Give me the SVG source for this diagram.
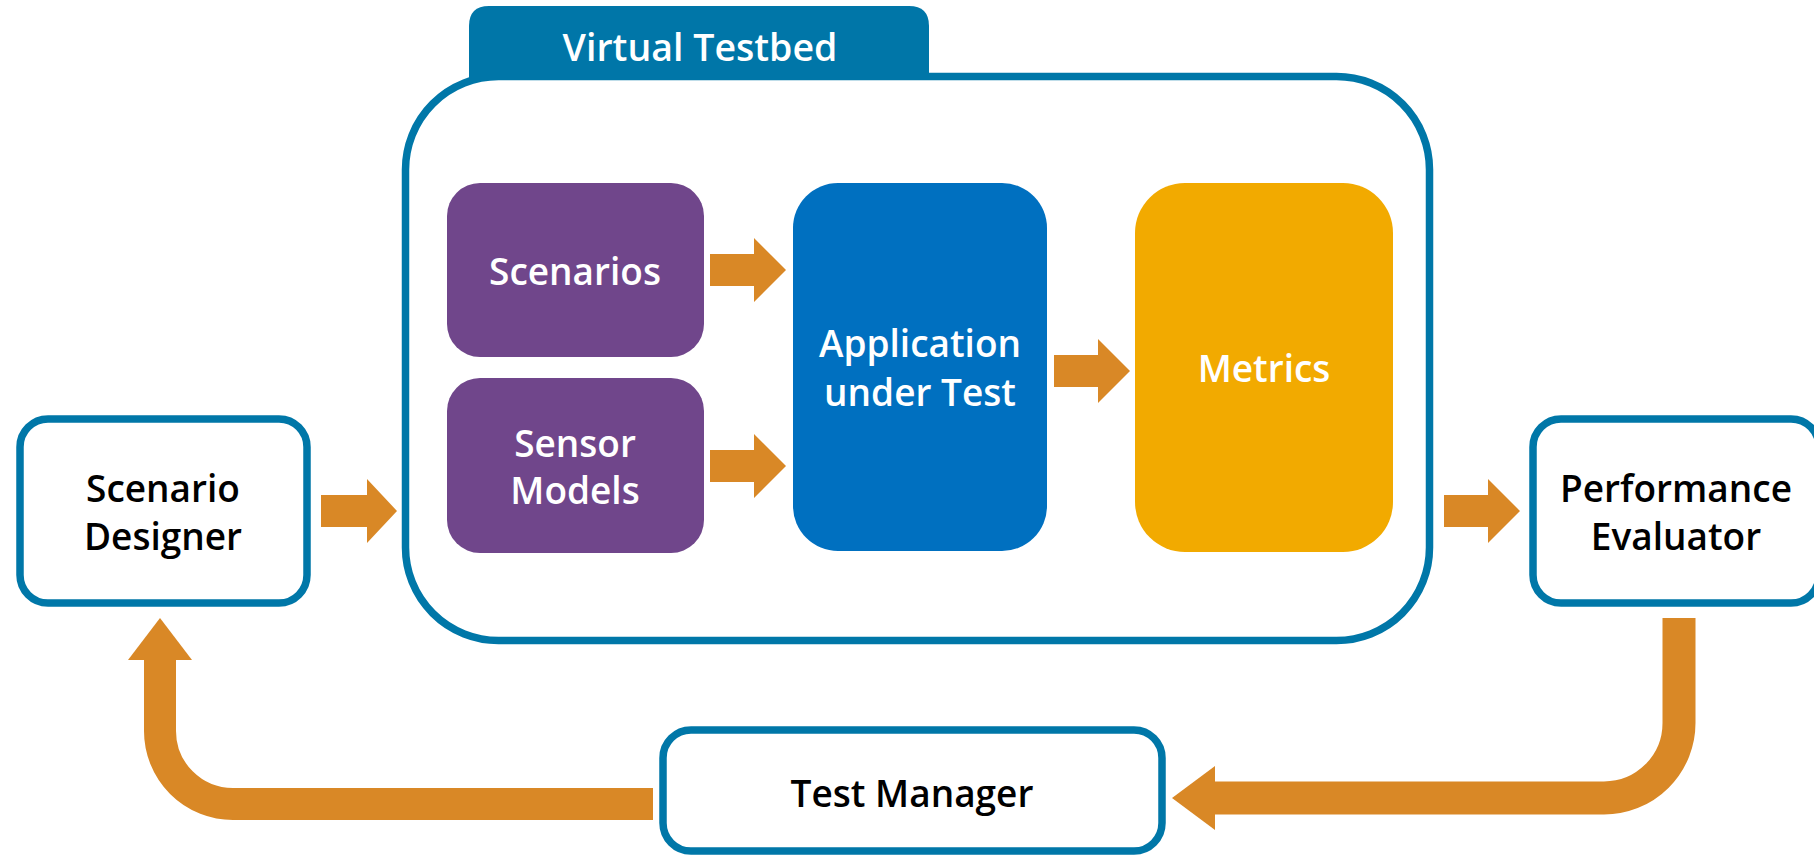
<svg xmlns="http://www.w3.org/2000/svg" width="1814" height="855" viewBox="0 0 1814 855">
  <style>
    .frame { fill: #ffffff; stroke: #0077A8; stroke-width: 7.5; }
    .purple { fill: #70468B; }
    .lbl { font-family: "Open Sans", "Noto Sans", "Liberation Sans", sans-serif; font-size: 37px; text-anchor: middle; font-weight: 600; }
    .dark { fill: #000000; }
    .light { fill: #ffffff; }
    .arrow { fill: #D98826; }
    .shaft { fill: none; stroke: #D98826; stroke-linecap: butt; stroke-linejoin: round; }
  </style>
  <rect width="1814" height="855" fill="#ffffff"/>

  <!-- Virtual Testbed container with its tab -->
  <g id="virtual-testbed">
    <rect class="frame" x="405.5" y="76.5" width="1024" height="564" rx="93" ry="93"/>
    <path d="M469,80 V26 Q469,6 489,6 H909 Q929,6 929,26 V80 Z" fill="#0076A8"/>
    <text class="lbl light" x="700" y="61" style="font-size:37.5px">Virtual Testbed</text>
  </g>

  <g id="scenario-designer">
    <rect class="frame" x="20" y="419" width="287" height="184" rx="28" ry="28"/>
    <text class="lbl dark" x="163" y="502">Scenario</text>
    <text class="lbl dark" x="163" y="550">Designer</text>
  </g>

  <g id="performance-evaluator">
    <rect class="frame" x="1533" y="419" width="286" height="184" rx="28" ry="28"/>
    <text class="lbl dark" x="1676" y="502">Performance</text>
    <text class="lbl dark" x="1676" y="550">Evaluator</text>
  </g>

  <g id="test-manager">
    <rect class="frame" x="663" y="730" width="499" height="121" rx="28" ry="28"/>
    <text class="lbl dark" x="912" y="807">Test Manager</text>
  </g>

  <g id="scenarios">
    <rect class="purple" x="447" y="183" width="257" height="174" rx="33" ry="33"/>
    <text class="lbl light" x="575" y="285">Scenarios</text>
  </g>

  <g id="sensor-models">
    <rect class="purple" x="447" y="378" width="257" height="175" rx="33" ry="33"/>
    <text class="lbl light" x="575" y="457">Sensor</text>
    <text class="lbl light" x="575" y="504">Models</text>
  </g>

  <g id="application-under-test">
    <rect x="793" y="183" width="254" height="368" rx="45" ry="45" fill="#0070C0"/>
    <text class="lbl light" x="920" y="357">Application</text>
    <text class="lbl light" x="920" y="406">under Test</text>
  </g>

  <g id="metrics">
    <rect x="1135" y="183" width="258" height="369" rx="50" ry="50" fill="#F2AA00"/>
    <text class="lbl light" x="1264" y="382">Metrics</text>
  </g>

  <!-- block arrows and feedback loop -->
  <g id="connectors">
    <polygon class="arrow" points="321,495 367,495 367,479 397,511 367,543 367,527 321,527"/>
    <polygon class="arrow" points="1444,495 1488,495 1488,479 1520,511 1488,543 1488,527 1444,527"/>
    <polygon class="arrow" points="710,254 754,254 754,238 786,270 754,302 754,286 710,286"/>
    <polygon class="arrow" points="710,450 754,450 754,434 786,466 754,498 754,482 710,482"/>
    <polygon class="arrow" points="1054,355 1098,355 1098,339 1130,371 1098,403 1098,387 1054,387"/>

    <!-- Test Manager back to Scenario Designer -->
    <path class="shaft" stroke-width="32" d="M653,804 H233 A73,73 0 0 1 160,731 V659"/>
    <polygon class="arrow" points="128,660 160,618 192,660"/>

    <!-- Performance Evaluator to Test Manager -->
    <path class="shaft" stroke-width="33" d="M1679,618 V723 A75,75 0 0 1 1604,798 H1214"/>
    <polygon class="arrow" points="1215,766 1172,798 1215,830"/>
  </g>
</svg>
